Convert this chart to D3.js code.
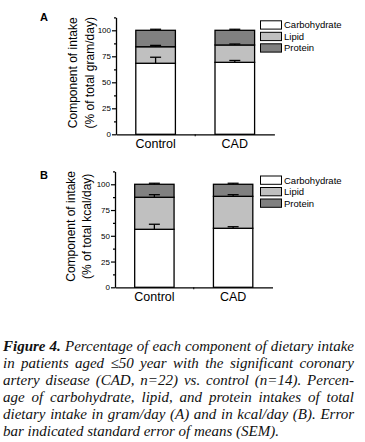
<!DOCTYPE html>
<html>
<head>
<meta charset="utf-8">
<script src="https://cdn.jsdelivr.net/npm/d3@7"></script>
<style>
  body { margin: 0; background: #fff; }
  #wrap { position: relative; width: 365px; height: 442px; overflow: hidden; }
  svg { position: absolute; left: 0; top: 0; }
  text { font-family: "Liberation Sans", Arial, sans-serif; fill: #000; }
  .caption {
    position: absolute; left: 3px; top: 338px; width: 351px;
    font-family: "Liberation Serif", "Times New Roman", serif;
    font-style: italic; font-size: 15px; line-height: 17px; color: #111;
  }
  .caption .j { text-align: justify; text-align-last: justify; white-space: nowrap; }
  .caption b { font-weight: bold; }
</style>
</head>
<body>
<div id="wrap"></div>
<script>
const categories = ['Control', 'CAD'];
const components = ['Carbohydrate', 'Lipid', 'Protein'];
const colors = ['#ffffff', '#c0c0c0', '#808080'];
const yTicks = [0, 25, 50, 75, 100];
const yMinorTicks = [12.5, 37.5, 62.5, 87.5, 112.5];

// panel A: % of total gram/day
const gramCarb = [68.3, 69.2];
const gramLipid = [15.9, 16.7];
const gramProtein = [15.8, 14.1];
const gramCarbErr = [5.8, 1.8];
const gramLipidErr = [1.3, 0.9];
const gramProteinErr = [1.0, 1.0];

// panel B: % of total kcal/day
const kcalCarb = [56.3, 57.3];
const kcalLipid = [31.1, 31.0];
const kcalProtein = [12.6, 11.7];
const kcalCarbErr = [4.9, 1.5];
const kcalLipidErr = [2.5, 1.6];
const kcalProteinErr = [1.0, 1.0];

const svg = d3.select('#wrap').append('svg')
  .attr('width', 365)
  .attr('height', 442);

function drawPanel(p) {
  const g = svg.append('g');

  const rows = categories.map((c, i) => ({
    cat: c,
    Carbohydrate: p.carb[i],
    Lipid: p.lipid[i],
    Protein: p.protein[i],
  }));
  const errs = [p.carbErr, p.lipidErr, p.proteinErr];

  const x = d3.scaleBand()
    .domain(categories)
    .range([p.left, p.right])
    .paddingInner(0.5)
    .paddingOuter(0.25);

  const y = d3.scaleLinear()
    .domain([0, 112.5])
    .range([p.bottom, p.top]);

  const series = d3.stack().keys(components)(rows);

  // bars
  g.selectAll('.layer')
    .data(series)
    .enter().append('g')
    .attr('fill', (d, i) => colors[i])
    .selectAll('rect')
    .data(d => d)
    .enter().append('rect')
    .attr('x', d => x(d.data.cat))
    .attr('width', x.bandwidth())
    .attr('y', d => y(d[1]))
    .attr('height', d => y(d[0]) - y(d[1]))
    .attr('stroke', '#000')
    .attr('stroke-width', 1.3);

  // error bars (upper half only)
  series.forEach((s, k) => {
    s.forEach((d, i) => {
      const cx = x(d.data.cat) + x.bandwidth() / 2;
      const top = d[1] + errs[k][i];
      g.append('line')
        .attr('x1', cx).attr('x2', cx)
        .attr('y1', y(d[1])).attr('y2', y(top))
        .attr('stroke', '#000').attr('stroke-width', 1.3);
      g.append('line')
        .attr('x1', cx - 5.5).attr('x2', cx + 5.5)
        .attr('y1', y(top)).attr('y2', y(top))
        .attr('stroke', '#000').attr('stroke-width', 1.3);
    });
  });

  // y axis
  const yAxis = g.append('g')
    .attr('transform', `translate(${p.left},0)`)
    .call(d3.axisLeft(y).tickValues(yTicks).tickSize(4).tickSizeOuter(0).tickPadding(1));
  yAxis.selectAll('text').style('font-size', '8px');
  g.append('g')
    .attr('transform', `translate(${p.left},0)`)
    .call(d3.axisLeft(y).tickValues(yMinorTicks).tickSize(2).tickSizeOuter(0).tickFormat(''))
    .select('.domain').remove();

  // x axis
  const xAxis = g.append('g')
    .attr('transform', `translate(0,${p.bottom})`)
    .call(d3.axisBottom(x).tickSize(0).tickSizeOuter(0).tickPadding(4.5));
  xAxis.selectAll('text').style('font-size', '12.5px');
  const mid = (x('Control') + x.bandwidth() + x('CAD')) / 2;
  g.append('line')
    .attr('x1', mid).attr('x2', mid)
    .attr('y1', p.bottom).attr('y2', p.bottom + 2)
    .attr('stroke', '#000').attr('stroke-width', 1);

  g.selectAll('.domain').attr('stroke-width', 1.3);
  g.selectAll('.tick line').attr('stroke-width', 1.2);

  // axis title
  const yc = (p.top + p.bottom) / 2 - 3;
  g.append('text')
    .attr('transform', `translate(${p.title1},${yc}) rotate(-90)`)
    .attr('text-anchor', 'middle')
    .style('font-size', '12px')
    .text('Component of intake');
  g.append('text')
    .attr('transform', `translate(${p.title2},${yc}) rotate(-90)`)
    .attr('text-anchor', 'middle')
    .style('font-size', '12px')
    .text(p.unit);

  // panel letter
  g.append('text')
    .attr('x', 40)
    .attr('y', p.letterY)
    .style('font-size', '11px')
    .style('font-weight', 'bold')
    .text(p.letter);

  // legend
  const lg = g.append('g')
    .attr('transform', `translate(260.5,${p.legendTop})`);
  components.forEach((c, i) => {
    lg.append('rect')
      .attr('x', 0)
      .attr('y', i * 11.5)
      .attr('width', 21)
      .attr('height', 8.3)
      .attr('fill', colors[i])
      .attr('stroke', '#000')
      .attr('stroke-width', 1);
    lg.append('text')
      .attr('x', 23.5)
      .attr('y', i * 11.5 + 4.15 + 3.4)
      .style('font-size', '9.5px')
      .text(c);
  });
}

drawPanel({
  letter: 'A', letterY: 20.7, unit: '(% of total gram/day)',
  carb: gramCarb, lipid: gramLipid, protein: gramProtein,
  carbErr: gramCarbErr, lipidErr: gramLipidErr, proteinErr: gramProteinErr,
  left: 116, right: 274.4, top: 17.3, bottom: 134.3,
  title1: 77, title2: 93.5, legendTop: 20.8,
});

drawPanel({
  letter: 'B', letterY: 179, unit: '(% of total kcal/day)',
  carb: kcalCarb, lipid: kcalLipid, protein: kcalProtein,
  carbErr: kcalCarbErr, lipidErr: kcalLipidErr, proteinErr: kcalProteinErr,
  left: 115, right: 272.5, top: 171.4, bottom: 287.3,
  title1: 74.5, title2: 91, legendTop: 176,
});

d3.select('#wrap').append('div')
  .attr('class', 'caption')
  .html(
    '<div class="j"><b>Figure 4.</b> Percentage of each component of dietary intake</div>' +
    '<div class="j">in patients aged \u226450 year with the significant coronary</div>' +
    '<div class="j">artery disease (CAD, n=22) vs. control (n=14). Percen-</div>' +
    '<div class="j">age of carbohydrate, lipid, and protein intakes of total</div>' +
    '<div class="j">dietary intake in gram/day (A) and in kcal/day (B). Error</div>' +
    '<div>bar indicated standard error of means (SEM).</div>'
  );
</script>
</body>
</html>
